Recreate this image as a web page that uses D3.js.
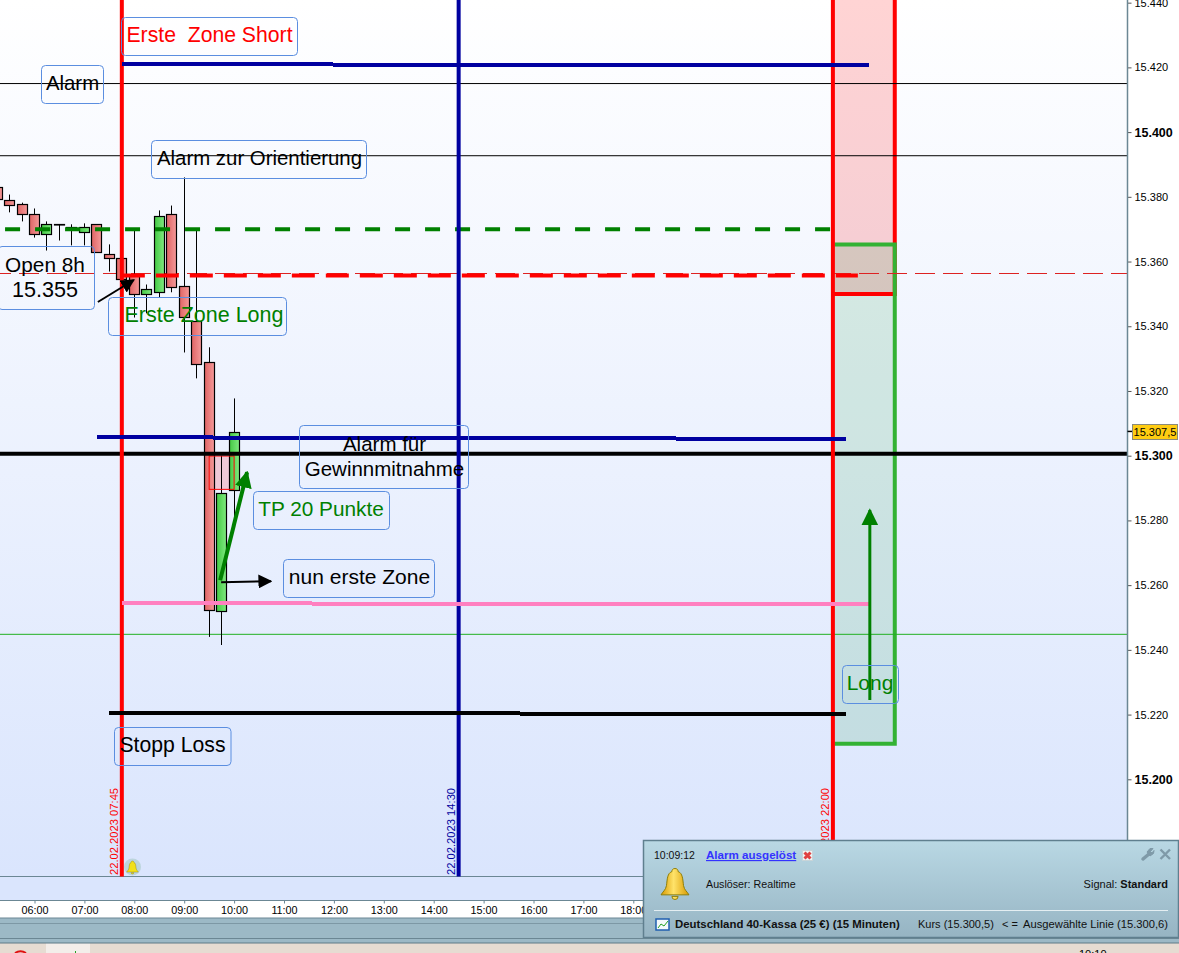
<!DOCTYPE html>
<html><head><meta charset="utf-8">
<script src="https://cdn.jsdelivr.net/npm/d3@7/dist/d3.min.js"></script>
<style>html,body{margin:0;padding:0;overflow:hidden;background:#fff}svg{display:block;font-family:"Liberation Sans",Arial,sans-serif}</style>
</head><body><svg id="c" width="1179" height="953"></svg>
<script>
// ---- data ----
const candleHours=[5.25,5.5,5.75,6,6.25,6.5,6.75,7,7.25,7.5,7.75,8,8.25,8.5,8.75,9,9.25,9.5,9.75,10];
const opens =[15382.9,15378.9,15377.9,15374.8,15368.4,15371.5,15370.8,15369.3,15371.5,15362.2,15361.0,15355.7,15349.8,15350.8,15374.8,15352.3,15341.5,15328.9,15252.0,15289.4];
const highs =[15383.5,15380.7,15378.2,15376.4,15372.4,15371.5,15371.5,15371.8,15371.5,15365.3,15361.0,15370.2,15352.9,15375.8,15377.3,15386.0,15369.6,15333.5,15300.0,15317.7];
const lows  =[15377.0,15375.2,15372.4,15367.4,15363.4,15366.5,15365.0,15365.0,15362.8,15356.9,15354.5,15342.7,15344.0,15348.9,15350.5,15331.9,15323.9,15244.0,15241.5,15281.0];
const closes=[15379.2,15377.3,15374.8,15368.7,15371.5,15371.5,15370.8,15370.8,15362.8,15361.0,15354.5,15349.8,15351.4,15374.2,15352.3,15342.7,15328.2,15252.3,15288.4,15307.3];
const priceTicks=[15200,15220,15240,15260,15280,15300,15320,15340,15360,15380,15400,15420,15440];
const boldPrices=[15200,15300,15400];
const hourTicks=[6,7,8,9,10,11,12,13,14,15,16,17,18];
const hourLabels=["06:00","07:00","08:00","09:00","10:00","11:00","12:00","13:00","14:00","15:00","16:00","17:00","18:00"];
const alarmLevels=[15415.0,15392.7];
const greenThin=15244.8;
const targetLevel=15300.6;
const blueTop=[7.75,22.73,15421.0,15420.6];
const blueMid=[7.25,22.26,15305.7,15305.2];
const pinkLine=[7.75,22.73,15254.4,15254.1];
const stopLine=[7.5,22.26,15220.5,15220.2];
const greenDash=[5.41,21.97,15370.0];
const redDash=[7.75,22.5,15355.7];
const openThin=15356.3;
const verticals=[[7.75,"#ff0000","22.02.2023 07:45"],[14.5,"#0000a0","22.02.2023 14:30"],[22,"#ff0000","22.02.2023 22:00"]];
const shortZone=[22,23.24,15445,15350];
const longZone=[22.03,23.24,15365.3,15211];
const ghost=[9.5,10,15299.9,15289.6];
const lastPrice="15.307,5";
const lastPriceValue=15307.5;

// ---- layout ----
const svg=d3.select("#c"), W=1179, H=953, axisX=1127.5, plotB=876.5, bandB=900.5;
const x=d3.scaleLinear().domain([6,7]).range([34.5,84.4]);
const y=d3.scaleLinear().domain([15200,15300]).range([779.3,455.7]);
const defs=svg.append("defs");
function grad(id,stops,horizontal){const g=defs.append("linearGradient").attr("id",id).attr("x1",0).attr("y1",0).attr("x2",horizontal?1:0).attr("y2",horizontal?0:1);
 stops.forEach(s=>g.append("stop").attr("offset",s[0]).attr("stop-color",s[1]));}
grad("bg",[[0,"#ffffff"],[1,"#dae5fd"]]);
grad("rc",[[0,"#df6464"],[1,"#f59a9a"]],true);
grad("gc",[[0,"#44c944"],[1,"#80ea80"]],true);
grad("pop",[[0,"#b9d8e4"],[1,"#96b4c3"]]);
grad("bell",[[0,"#d99a00"],[.45,"#ffe36a"],[1,"#d99a00"]],true);
defs.append("clipPath").attr("id","plot").append("rect").attr("width",axisX).attr("height",plotB);
[["ab","#000"],["ag","#008000"]].forEach(([id,c])=>{
 defs.append("marker").attr("id",id).attr("viewBox","0 0 10 10").attr("refX",9).attr("refY",5).attr("markerUnits","userSpaceOnUse").attr("markerWidth",id=="ab"?14:17).attr("markerHeight",id=="ab"?14:17).attr("orient","auto")
 .append("path").attr("d","M0,0L10,5L0,10Z").attr("fill",c);});

// ---- backgrounds ----
svg.append("rect").attr("width",W).attr("height",H).attr("fill","#fff");
svg.append("rect").attr("width",axisX).attr("height",plotB).attr("fill","url(#bg)");
svg.append("rect").attr("y",plotB).attr("width",W).attr("height",bandB-plotB).attr("fill","#dae5fd");
svg.append("rect").attr("y",918).attr("width",W).attr("height",25).attr("fill","#9cb9c6");
svg.append("rect").attr("y",943).attr("width",W).attr("height",10).attr("fill","#e6dcd2");
svg.append("rect").attr("x",46).attr("y",943).attr("width",44).attr("height",10).attr("fill","#f3eeea");
[[918,"#6b8794"],[923.5,"#7d98a5"],[938.5,"#6b8794"],[943,"#5f7a87"]].forEach(l=>svg.append("line").attr("x1",0).attr("x2",W).attr("y1",l[0]).attr("y2",l[0]).attr("stroke",l[1]));
svg.append("line").attr("x1",0).attr("x2",axisX).attr("y1",plotB).attr("y2",plotB).attr("stroke","#6b8794");

const plot=svg.append("g").attr("clip-path","url(#plot)");
const seg=(g,x1,x2,y1,y2,c,w,dash)=>g.append("line").attr("x1",x(x1)).attr("x2",x(x2)).attr("y1",y(y1)).attr("y2",y(y2)).attr("stroke",c).attr("stroke-width",w).attr("stroke-dasharray",dash||null);
const xMin=x.invert(0), xMax=x.invert(axisX);

// ---- zones ----
plot.append("rect").attr("x",x(shortZone[0])).attr("width",x(shortZone[1])-x(shortZone[0])).attr("y",y(shortZone[2])).attr("height",y(shortZone[3])-y(shortZone[2])).attr("fill","#ff0000").attr("fill-opacity",.17);
plot.append("rect").attr("x",x(longZone[0])).attr("width",x(longZone[1])-x(longZone[0])).attr("y",y(longZone[2])).attr("height",y(longZone[3])-y(longZone[2])).attr("fill","#2f9f50").attr("fill-opacity",.16);
plot.append("path").attr("d",`M${x(shortZone[0])},${y(shortZone[3])}H${x(shortZone[1])}V${y(shortZone[2])}`).attr("fill","none").attr("stroke","#ff0000").attr("stroke-width",4);
plot.append("path").attr("d",`M${x(longZone[0])},${y(longZone[2])}H${x(longZone[1])}V${y(longZone[3])}H${x(longZone[0])}`).attr("fill","none").attr("stroke","#33b233").attr("stroke-width",4);

// ---- thin levels ----
alarmLevels.forEach(v=>seg(plot,xMin,xMax,v,v,"#000",1));
seg(plot,xMin,xMax,greenThin,greenThin,"#22b022",1);
seg(plot,xMin,xMax,openThin,openThin,"#dd2222",1,"20,8").attr("stroke-dashoffset",9);

// ---- ghost rectangle, candles ----
const gx=x(ghost[0]), gw=x(ghost[1])-x(ghost[0]), gy=y(ghost[2]), gh=y(ghost[3])-y(ghost[2]);
plot.append("rect").attr("x",gx).attr("width",gw).attr("y",gy).attr("height",gh).attr("fill","#eec8d6");
const cg=plot.append("g");
candleHours.forEach((h,i)=>{
 const cx=Math.floor(x(h))+.5, up=closes[i]>=opens[i];
 cg.append("line").attr("x1",cx).attr("x2",cx).attr("y1",y(highs[i])).attr("y2",y(lows[i])).attr("stroke","#000");
 const t=y(Math.max(opens[i],closes[i])), b=y(Math.min(opens[i],closes[i]));
 cg.append("rect").attr("x",cx-5).attr("width",10).attr("y",Math.round(t)+.5).attr("height",Math.max(Math.round(b-t),.5)).attr("fill",up?"url(#gc)":"url(#rc)").attr("stroke","#000").attr("stroke-width",1.2);
});
plot.append("rect").attr("x",gx).attr("width",gw).attr("y",gy).attr("height",gh).attr("fill","none").attr("stroke","#f00");

// ---- horizontal lines ----
seg(plot,xMin,xMax,targetLevel,targetLevel,"#000",4);
seg(plot,greenDash[0],greenDash[1],greenDash[2],greenDash[2],"#008000",4,"15,15");
verticals.forEach(v=>seg(plot,v[0],v[0],15500,15000,v[1],4));
seg(plot,redDash[0],redDash[1],redDash[2],redDash[2],"#ff0000",4,"23,11");
[[blueTop,"#0000a0",4],[blueMid,"#0000a0",4],[pinkLine,"#ff80c0",4],[stopLine,"#000",4]].forEach(([a,c,w])=>seg(plot,a[0],a[1],a[2],a[3],c,w).attr("shape-rendering","crispEdges"));

// ---- date labels ----
verticals.forEach(v=>plot.append("text").attr("transform",`translate(${x(v[0])-4},875) rotate(-90)`).attr("font-size",11.2).attr("fill",v[1]).text(v[2]));

// ---- arrows ----
const arrow=(a,c,w,m)=>seg(svg,a[0],a[1],a[2],a[3],c,w).attr("marker-end",`url(#${m})`);
arrow([7.27,7.99,15347.5,15354.3],"#000",2,"ab");
arrow([9.74,10.74,15260.9,15261.2],"#000",2,"ab");
arrow([9.72,10.26,15261.5,15294.9],"#008000",4,"ag");
arrow([22.74,22.74,15224.5,15283.2],"#008000",3,"ag");

// ---- annotation boxes ----
function box(x0,y0,x1,y1,lines,color,cx,sizes){
 svg.append("rect").attr("x",x0).attr("y",y0).attr("width",x1-x0).attr("height",y1-y0).attr("rx",4).attr("fill","none").attr("stroke","#5b8ee0");
 const m=(y0+y1)/2, lh=25;
 lines.forEach((t,i)=>svg.append("text").attr("x",cx).attr("y",m+(lines.length>1?6:5.5)+(i-(lines.length-1)/2)*lh).attr("text-anchor","middle").attr("font-size",sizes[i]).attr("fill",color).style("white-space","pre").text(t));
}
box(121.5,17.5,297.5,55.5,["Erste  Zone Short"],"#ff0000",209.5,[21.2]);
box(41.5,65.5,103.5,103.5,["Alarm"],"#000",72.5,[20.4]);
box(151.5,140.5,366.5,178.5,["Alarm zur Orientierung"],"#000",259.5,[20.4]);
box(-2,246.5,94.5,309.5,["Open 8h","15.355"],"#000",45,[20.8,21.6]);
box(108.5,297.5,286.5,335.5,["Erste Zone Long"],"#008000",204,[21.5]);
box(299.5,425.5,468.5,488.5,["Alarm für","Gewinnmitnahme"],"#000",384.5,[20.5,20.5]);
box(253.5,491.5,389.5,529.5,["TP 20 Punkte"],"#008000",321,[20.8]);
box(283.5,559.5,434.5,597.5,["nun erste Zone"],"#000",359.5,[21]);
box(842.5,665.5,898.5,703.5,["Long"],"#008000",870,[21]);
box(114.5,727.5,231,765.5,["Stopp Loss"],"#000",172.5,[21.2]);

// ---- axes ----
const fmt=v=>d3.format(",")(v).replace(",",".");
const ay=svg.append("g").attr("transform",`translate(${axisX},0)`).call(d3.axisRight(y).tickValues(priceTicks).tickFormat(fmt).tickSize(4).tickPadding(3));
ay.select(".domain").remove();
svg.append("line").attr("x1",axisX).attr("x2",axisX).attr("y1",0).attr("y2",bandB).attr("stroke","#6b8794").attr("stroke-width",1.5);
ay.selectAll(".tick line").attr("stroke","#555");
ay.selectAll("text").attr("font-family","Liberation Sans").attr("font-size",d=>boldPrices.includes(d)?12.5:11).attr("font-weight",d=>boldPrices.includes(d)?"bold":"normal").attr("fill","#000");
const ax=svg.append("g").attr("transform",`translate(0,${bandB})`).call(d3.axisBottom(x).tickValues(hourTicks).tickFormat((d,i)=>hourLabels[i]).tickSize(3).tickPadding(3));
ax.select(".domain").remove();
svg.append("line").attr("x1",0).attr("x2",W).attr("y1",bandB).attr("y2",bandB).attr("stroke","#6b8794");
ax.selectAll(".tick line").attr("stroke","#6b8794");
ax.selectAll("text").attr("font-family","Liberation Sans").attr("font-size",10.8).attr("fill","#000");

// last price tag
svg.append("line").attr("x1",axisX).attr("x2",1132).attr("y1",y(lastPriceValue)).attr("y2",y(lastPriceValue)).attr("stroke","#000").attr("stroke-width",1.5);
svg.append("rect").attr("x",1132.5).attr("y",424.5).attr("width",45).attr("height",15).attr("fill","#ffcc11").attr("stroke","#8a8a7a");
svg.append("text").attr("x",1155).attr("y",436).attr("text-anchor","middle").attr("font-size",11).text(lastPrice);

// small bell on the plot
const bellPath=(g,cx,cy,s,fill)=>g.append("path").attr("transform",`translate(${cx},${cy}) scale(${s})`).attr("d","M0,-10C-1.5,-10 -2,-9 -2,-8C-5,-7 -5,-3 -5.5,1C-6,4 -8,5 -9,7L9,7C8,5 6,4 5.5,1C5,-3 5,-7 2,-8C2,-9 1.5,-10 0,-10ZM-2,8A2,2 0 0 0 2,8Z").attr("fill",fill).attr("stroke","#8a7a00").attr("stroke-width",.6);
svg.append("circle").attr("cx",132.5).attr("cy",867).attr("r",8.5).attr("fill","#b8d3d8").attr("opacity",.9);
bellPath(svg,132.5,867.5,.65,"#f2e01a");

// taskbar bits
svg.append("path").attr("d","M15,953A10,10 0 0 1 26,953").attr("fill","none").attr("stroke","#e01010").attr("stroke-width",2);
svg.append("line").attr("x1",75.5).attr("x2",75.5).attr("y1",951).attr("y2",953).attr("stroke","#22a022");
svg.append("text").attr("x",1079).attr("y",958).attr("font-size",11).text("10:10");

// ---- alert popup ----
const p=svg.append("g");
p.append("rect").attr("x",643.5).attr("y",840.5).attr("width",535).attr("height",97).attr("fill","url(#pop)").attr("stroke","#5f7f8f").attr("stroke-width",1.5);
const pt=(xx,yy,t,o={})=>p.append("text").attr("x",xx).attr("y",yy).attr("font-size",o.fs||10.7).attr("font-weight",o.b?"bold":null).attr("fill",o.c||"#111").attr("text-anchor",o.a||"start").attr("text-decoration",o.u?"underline":null).text(t);
pt(654,859,"10:09:12",{fs:10.5});
pt(706,859,"Alarm ausgelöst",{c:"#3333ff",u:1,b:1,fs:11.6});
p.append("rect").attr("x",802.5).attr("y",850.5).attr("width",10).attr("height",10).attr("fill","#eef2f2").attr("stroke","#c8d4d8");
p.append("path").attr("d","M804.5,852.5L810.5,858.5M810.5,852.5L804.5,858.5").attr("stroke","#e04040").attr("stroke-width",3);
p.append("path").attr("d","M1143,859L1149,854").attr("stroke","#7f9aa8").attr("stroke-width",3.5).attr("stroke-linecap","round");
p.append("path").attr("d","M1147,852L1150,848.5L1153,848.5L1150.5,851.5L1152,853L1154,850.5L1153.5,853.5L1150,856Z").attr("fill","#7f9aa8").attr("stroke","#7f9aa8");
p.append("path").attr("d","M1160.5,849.5L1170,859M1170,849.5L1160.5,859").attr("stroke","#7f9aa8").attr("stroke-width",2.4);
bellPath(p,675,884,1.55,"url(#bell)");
pt(706,888,"Auslöser: Realtime");
p.append("text").attr("x",1168).attr("y",888).attr("font-size",11).attr("text-anchor","end").attr("fill","#111").html('Signal: <tspan font-weight="bold">Standard</tspan>');
p.append("line").attr("x1",654).attr("x2",1168).attr("y1",910.5).attr("y2",910.5).attr("stroke","#e4eef2");
p.append("rect").attr("x",656).attr("y",919).attr("width",13).attr("height",11).attr("fill","#f4f8fb").attr("stroke","#1f5fb0").attr("stroke-width",1.5);
p.append("path").attr("d","M658,928L661,924L664,926L668,921").attr("fill","none").attr("stroke","#22a022");
pt(675,928,"Deutschland 40-Kassa (25 €) (15 Minuten)",{b:1,fs:11.4});
pt(918,928,"Kurs (15.300,5)",{fs:11});
pt(1002,928,"< =",{fs:11});
pt(1168,928,"Ausgewählte Linie (15.300,6)",{a:"end",fs:11.2});
</script></body></html>
